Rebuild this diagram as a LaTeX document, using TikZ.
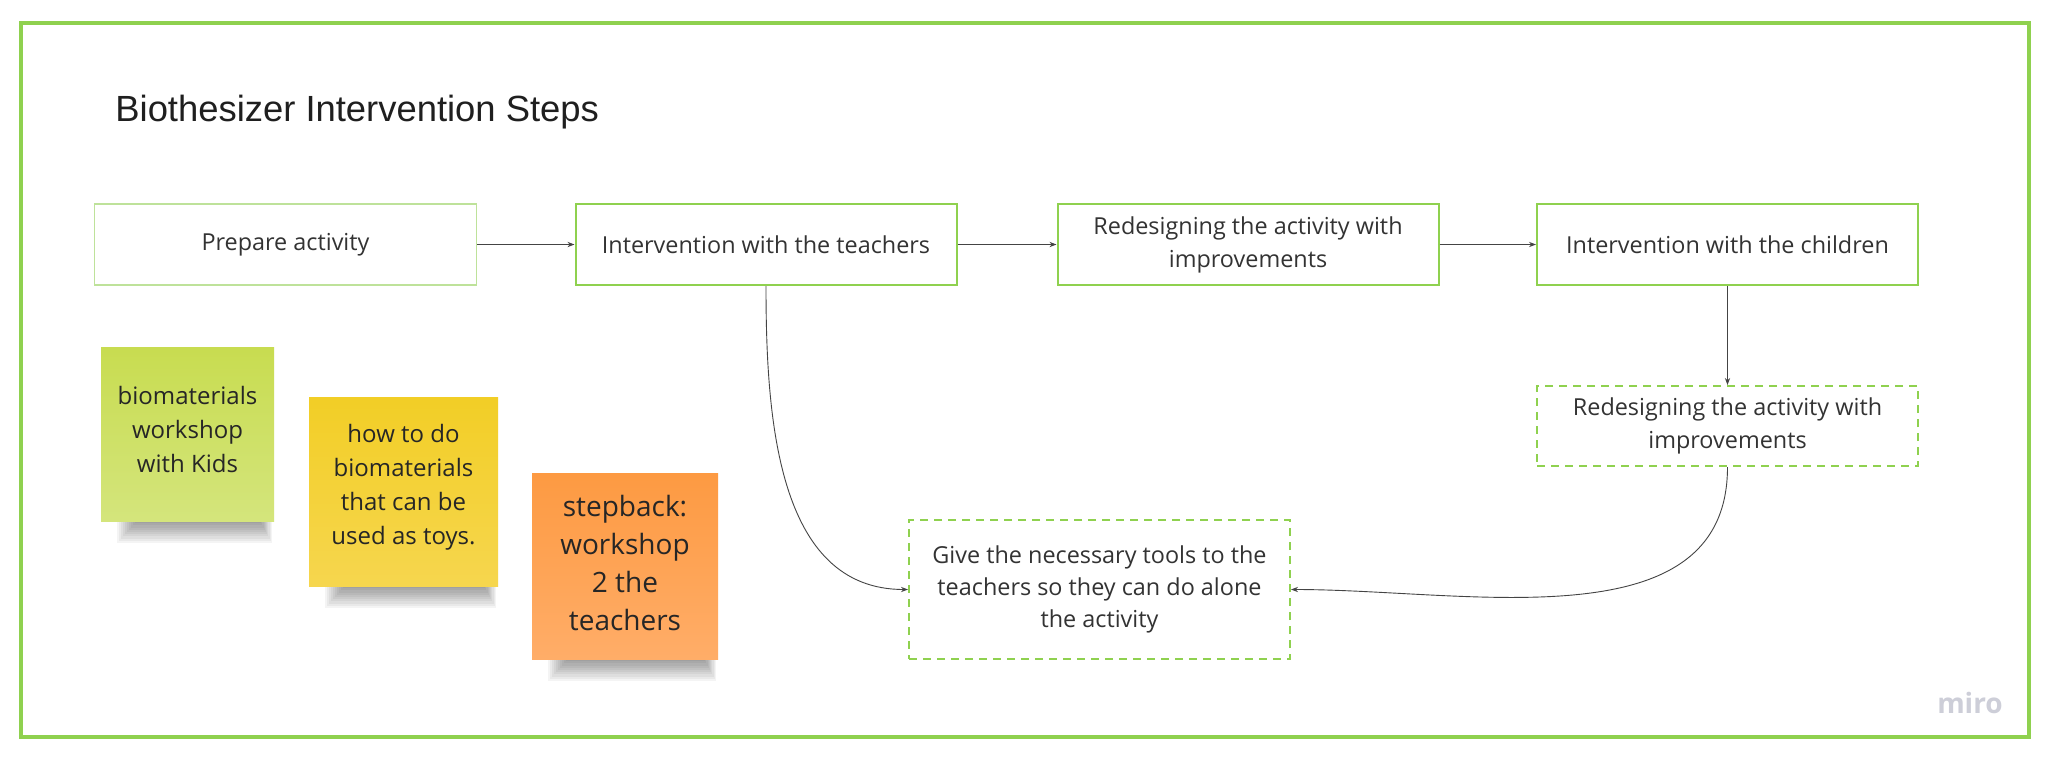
\documentclass[tikz,border=0pt]{standalone}
\usepackage{fontspec}
\setmainfont{Open Sans}
\newfontfamily\titlefont{Liberation Sans}
\usetikzlibrary{arrows.meta}
\definecolor{frameg}{HTML}{8FD14F}
\definecolor{lightg}{HTML}{BEE29A}
\definecolor{txt}{HTML}{333333}
\definecolor{ln}{HTML}{444444}
\definecolor{gtop}{HTML}{C8DC50}
\definecolor{gbot}{HTML}{D4E57C}
\definecolor{ytop}{HTML}{F2CE26}
\definecolor{ybot}{HTML}{F6D64E}
\definecolor{otop}{HTML}{FD9A42}
\definecolor{obot}{HTML}{FFAD68}
\definecolor{mirog}{HTML}{CDCED8}
\tikzset{
  boxtxt/.style={font=\fontsize{11.7}{16.5}\selectfont, text=txt, align=center, inner sep=0pt},
  stepbox/.style={boxtxt, draw=frameg, line width=1pt, minimum width=190.5pt, minimum height=40.5pt},
  lightbox/.style={boxtxt, draw=lightg, line width=0.8pt, minimum width=191pt, minimum height=40.5pt},
  dashbox/.style={boxtxt, draw=frameg, line width=1pt, dash pattern=on 4pt off 3pt, minimum width=190.5pt},
  conn/.style={draw=ln, line width=0.45pt, -{Stealth[length=3.5pt,width=2.6pt]}},
  sticky/.style={inner sep=0pt, align=center, text=black!85, font=\fontsize{12}{17}\selectfont},
}
\newcommand{\stickyshadow}[3]{% x1, x2, ybottom
  \foreach \k in {0,...,9}{
    \fill[black, opacity=0.045] ({#1+16+2*\k},{#3-4}) rectangle ({#2-2-1.2*\k},{#3+22-2.2*\k});
  }
}
\begin{document}
\begin{tikzpicture}[x=0.5pt,y=-0.5pt]
\useasboundingbox (0,0) rectangle (2053,761);
\fill[white] (0,0) rectangle (2053,761);
% frame
\draw[frameg, line width=2.2pt] (21,23) rectangle (2029,737);
% title
\node[anchor=base west, inner sep=0pt, font=\titlefont\fontsize{18.2}{22}\selectfont, text=black!88] (title) at (115,121) {Biothesizer Intervention Steps};
% boxes
\node[lightbox] (prep) at (285.5,244.5) {Prepare activity};
\node[stepbox] (teach) at (766,244.5) {Intervention with the teachers};
\node[stepbox] (redes) at (1248,244.5) {Redesigning the activity with\\improvements};
\node[stepbox] (child) at (1727.5,244.5) {Intervention with the children};
\node[dashbox, minimum height=40pt] (redes2) at (1727.5,426) {Redesigning the activity with\\improvements};
\node[dashbox, minimum height=69.5pt, font=\fontsize{11.7}{16}\selectfont] (give) at (1099.5,589.5) {Give the necessary tools to the\\teachers so they can do alone\\the activity};
% connectors
\draw[conn] (prep) -- (teach);
\draw[conn] (teach) -- (redes);
\draw[conn] (redes) -- (child);
\draw[conn] (child) -- (redes2);
\draw[conn] (teach.south) to[out=-90,in=180] (give.west);
\draw[conn] (redes2.south) to[out=-90,in=0] (give.east);
% sticky notes
\stickyshadow{101}{274}{521}
\stickyshadow{309}{498}{586}
\stickyshadow{532}{718}{659}
\shade[top color=gtop, bottom color=gbot] (101,347) rectangle (274,521);
\node[sticky] (s1) at (187.5,429) {biomaterials\\workshop\\with Kids};
\shade[top color=ytop, bottom color=ybot] (309,397) rectangle (498,586);
\node[sticky] (s2) at (403.5,487) {how to do\\biomaterials\\that can be\\used as toys.};
\shade[top color=otop, bottom color=obot] (532,473) rectangle (718,659);
\node[sticky, font=\fontsize{14}{19}\selectfont] (s3) at (625,563) {stepback:\\workshop\\2 the\\teachers};
% logo
\node[font=\fontsize{14}{14}\bfseries\selectfont, text=mirog, inner sep=0pt] (logo) at (1970,703) {miro};
\end{tikzpicture}
\end{document}
